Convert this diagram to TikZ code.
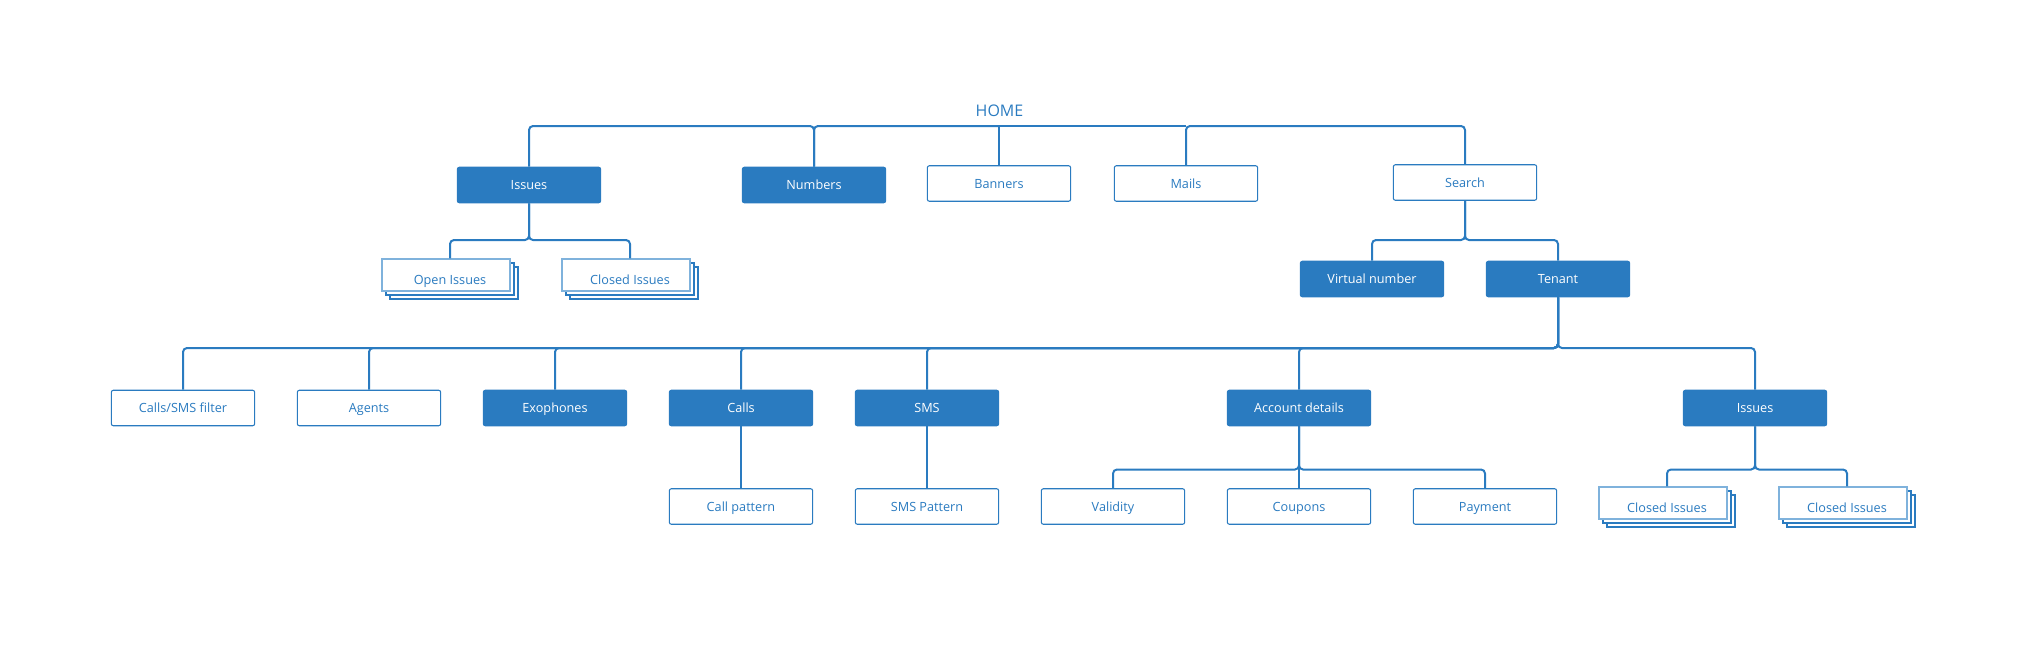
\documentclass[tikz,border=0pt]{standalone}
\usepackage{fontspec}
\setmainfont{Open Sans}
\usetikzlibrary{calc,shadows}
\definecolor{bl}{HTML}{2A7BC0}
\definecolor{lbl}{HTML}{7FB2DC}
\begin{document}
\begin{tikzpicture}[x=0.75pt,y=-0.75pt,
  boxbase/.style={rounded corners=1.5pt,minimum width=107.5pt,minimum height=26.6pt,
    inner sep=0pt,line width=0.8pt,draw=bl,font=\fontsize{9.5}{11}\selectfont,
    text height=9pt,text depth=2pt},
  filled/.style={boxbase,fill=bl,text=white},
  outl/.style={boxbase,fill=white,text=bl},
  stackbox/.style={minimum width=96pt,minimum height=24pt,inner sep=0pt,
    draw=lbl,line width=1.1pt,fill=white,text=bl,font=\fontsize{9.5}{11}\selectfont,
    text height=17pt,text depth=2.5pt,
    double copy shadow={shadow xshift=3pt,shadow yshift=-3pt,draw=bl,fill=white,line width=0.8pt}},
  conn/.style={draw=bl,line width=1.5pt,rounded corners=3pt},
  hometxt/.style={text=bl,font=\fontsize{12}{14}\selectfont,inner sep=0pt}
]
\useasboundingbox (0,0) rectangle (2022,654);

\coordinate (J0) at (999,126);
\coordinate (b2) at (0,240);
\coordinate (b3) at (0,348);
\coordinate (b4) at (0,469.5);

\node[hometxt] (home) at (999.5,111) {HOME};

% row 1
\node[filled] (issues) at (529,185) {Issues};
\node[filled] (numbers) at (814,185) {Numbers};
\node[outl] (banners) at (999,183.5) {Banners};
\node[outl] (mails) at (1186,183.5) {Mails};
\node[outl] (search) at (1465,182.5) {Search};

% row 2
\node[stackbox] (openI) at (446,275) {\hspace*{6pt}Open Issues};
\node[stackbox] (closedI) at (626,275) {\hspace*{6pt}Closed Issues};
\node[filled] (virt) at (1372,279) {Virtual number};
\node[filled] (tenant) at (1558,279) {Tenant};

% row 3
\node[outl] (csf) at (183,408) {Calls/SMS filter};
\node[outl] (agents) at (369,408) {Agents};
\node[filled] (exo) at (555,408) {Exophones};
\node[filled] (calls) at (741,408) {Calls};
\node[filled] (sms) at (927,408) {SMS};
\node[filled] (acc) at (1299,408) {Account details};
\node[filled] (iss2) at (1755,408) {Issues};

% row 4
\node[outl] (callp) at (741,506.5) {Call pattern};
\node[outl] (smsp) at (927,506.5) {SMS Pattern};
\node[outl] (valid) at (1113,506.5) {Validity};
\node[outl] (coup) at (1299,506.5) {Coupons};
\node[outl] (pay) at (1485,506.5) {Payment};
\node[stackbox] (ci2) at (1663,503) {\hspace*{6pt}Closed Issues};
\node[stackbox] (ci3) at (1843,503) {\hspace*{6pt}Closed Issues};

\coordinate (openIt) at ($(openI.north)+(4,0)$);
\coordinate (closedIt) at ($(closedI.north)+(4,0)$);
\coordinate (ci2t) at ($(ci2.north)+(4,0)$);
\coordinate (ci3t) at ($(ci3.north)+(4,0)$);

% top level connectors
\draw[conn] (issues.north) |- (numbers.north |- J0) -- (numbers.north);
\draw[conn] (J0) -| (numbers.north);
\draw[conn] (J0) -- (banners.north);
\draw[conn] (J0) -- (mails.north |- J0);
\draw[conn] (mails.north) |- (search.north |- J0) -- (search.north);

% level 2
\draw[conn] (issues.south) |- (openIt |- b2) -- (openIt);
\draw[conn] (issues.south) |- (closedIt |- b2) -- (closedIt);
\draw[conn] (search.south) |- (virt.north |- b2) -- (virt.north);
\draw[conn] (search.south) |- (tenant.north |- b2) -- (tenant.north);

% level 3
\foreach \c in {csf,agents,exo,calls,sms,acc,iss2}
  \draw[conn] (tenant.south) |- (\c.north |- b3) -- (\c.north);

% level 4
\draw[conn] (calls.south) -- (callp.north);
\draw[conn] (sms.south) -- (smsp.north);
\draw[conn] (acc.south) |- (valid.north |- b4) -- (valid.north);
\draw[conn] (acc.south) -- (coup.north);
\draw[conn] (acc.south) |- (pay.north |- b4) -- (pay.north);
\draw[conn] (iss2.south) |- (ci2t |- b4) -- (ci2t);
\draw[conn] (iss2.south) |- (ci3t |- b4) -- (ci3t);
\end{tikzpicture}
\end{document}
